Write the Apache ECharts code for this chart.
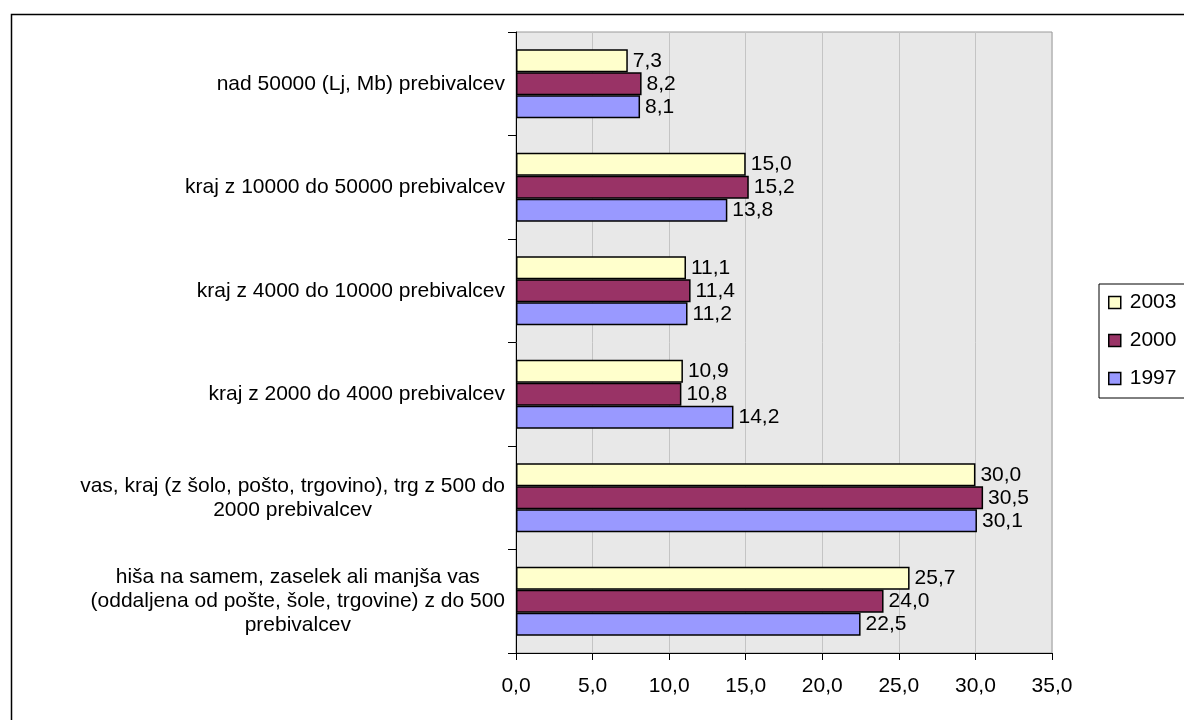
<!DOCTYPE html>
<html>
<head>
<meta charset="utf-8">
<script src="https://cdn.jsdelivr.net/npm/echarts@6/dist/echarts.min.js"></script>
<style>
html,body{margin:0;padding:0;background:#fff;}
#chart{width:1184px;height:720px;}
</style>
</head>
<body>
<div id="chart"></div>
<script>
// Categories, top to bottom (line breaks as displayed)
var categories = [
  'nad 50000 (Lj, Mb) prebivalcev',
  'kraj z 10000 do 50000 prebivalcev',
  'kraj z 4000 do 10000 prebivalcev',
  'kraj z 2000 do 4000 prebivalcev',
  'vas, kraj (z šolo, pošto, trgovino), trg z 500 do\n2000 prebivalcev',
  'hiša na samem, zaselek ali manjša vas\n(oddaljena od pošte, šole, trgovine) z do 500\nprebivalcev'
];
var seriesNames = ['2003', '2000', '1997'];
var values2003 = [7.3, 15.0, 11.1, 10.9, 30.0, 25.7];
var values2000 = [8.2, 15.2, 11.4, 10.8, 30.5, 24.0];
var values1997 = [8.1, 13.8, 11.2, 14.2, 30.1, 22.5];
var xTicks = [0, 5, 10, 15, 20, 25, 30, 35];

var FONT = 'Liberation Sans';
var FS = 21;
var colors = {'2003': '#FFFFCC', '2000': '#993366', '1997': '#9999FF'};
var dataBySeries = {'2003': values2003, '2000': values2000, '1997': values1997};

function fmt(v) { return v.toFixed(1).replace('.', ','); }

var chart = echarts.init(document.getElementById('chart'), null, {renderer: 'canvas'});

var series = seriesNames.map(function (name) {
  return {
    name: name,
    type: 'bar',
    data: dataBySeries[name],
    barWidth: 23,
    barGap: '0%',
    itemStyle: {color: colors[name], borderColor: '#000', borderWidth: 1.5},
    label: {
      show: true, position: 'right', distance: 5,
      color: '#000', fontFamily: FONT, fontSize: FS,
      formatter: function (p) { return fmt(p.value); }
    },
    emphasis: {disabled: true},
    animation: false
  };
});

chart.setOption({
  animation: false,
  textStyle: {fontFamily: FONT},
  graphic: [{
    type: 'rect', left: 9, top: 12, silent: true,
    shape: {width: 1300, height: 800},
    style: {fill: 'none', stroke: '#000', lineWidth: 1.5}
  }],
  grid: {
    left: 516, right: 132, top: 32, bottom: 67,
    show: true, backgroundColor: '#e8e8e8', borderColor: '#9a9a9a', borderWidth: 1
  },
  legend: {
    data: seriesNames,
    orient: 'vertical',
    left: 1099, top: 284,
    padding: [8, 40, 9, 9],
    itemWidth: 12, itemHeight: 12,
    itemGap: 17,
    borderColor: '#000', borderWidth: 1,
    backgroundColor: '#fff',
    icon: 'rect',
    textStyle: {fontFamily: FONT, fontSize: FS, color: '#000', padding: [0, 0, 0, 4]},
    itemStyle: {borderColor: '#000', borderWidth: 1.5}
  },
  xAxis: {
    type: 'value', min: 0, max: 35, interval: 5,
    axisLine: {show: true, lineStyle: {color: '#000', width: 1}},
    axisTick: {show: true, length: 7, lineStyle: {color: '#000'}},
    axisLabel: {
      margin: 23, color: '#000', fontFamily: FONT, fontSize: FS,
      formatter: function (v) { return fmt(v); }
    },
    splitLine: {show: true, lineStyle: {color: '#c4c4c4', width: 1}}
  },
  yAxis: {
    type: 'category', data: categories, inverse: true,
    axisLine: {show: true, lineStyle: {color: '#000', width: 1}},
    axisTick: {show: true, length: 8, lineStyle: {color: '#000'}},
    axisLabel: {
      margin: 11, color: '#000', fontFamily: FONT, fontSize: FS, lineHeight: 24,
      align: 'right',
      formatter: function (v) {
        return v.split('\n').map(function (l) { return '{c|' + l + '}'; }).join('\n');
      },
      rich: {c: {align: 'center', fontFamily: FONT, fontSize: FS, lineHeight: 24, color: '#000'}}
    },
    splitLine: {show: false}
  },
  series: series
});
</script>
</body>
</html>
